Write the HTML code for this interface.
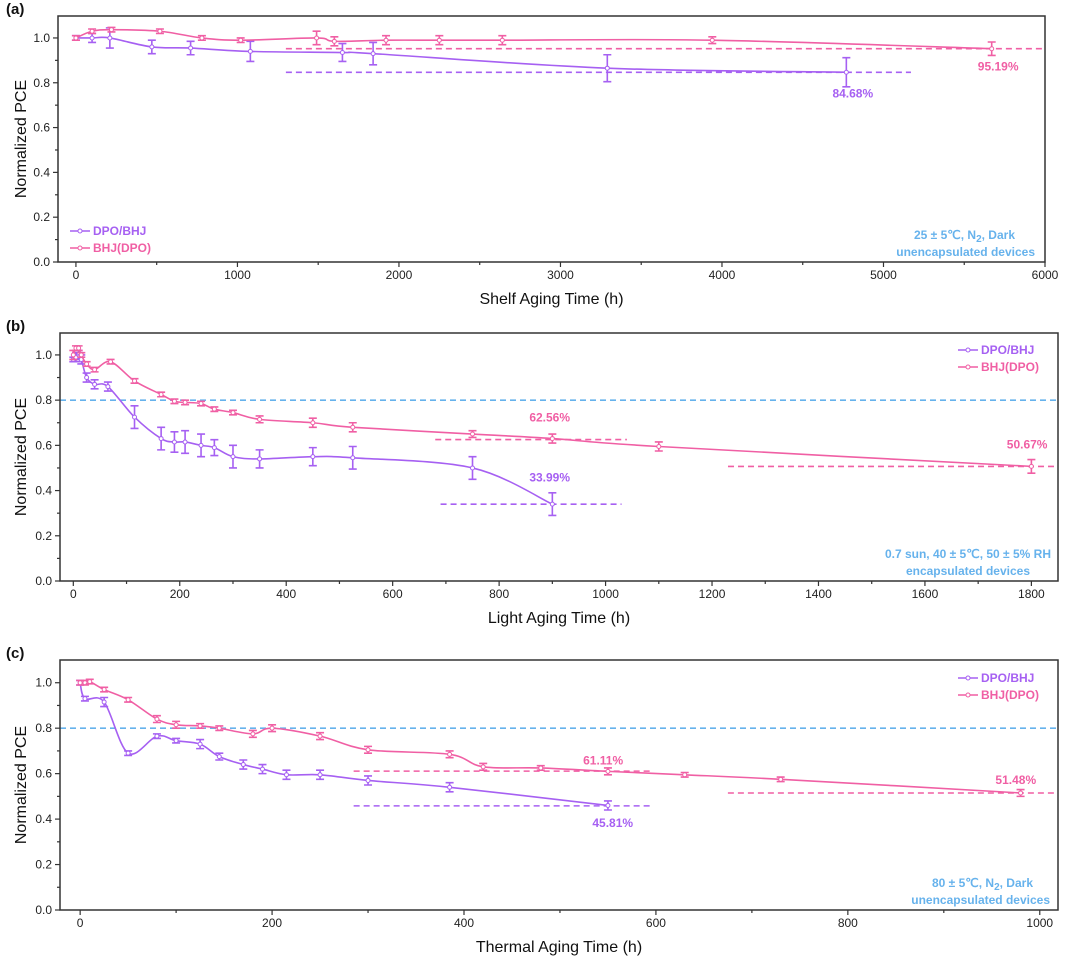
<!DOCTYPE html>
<html><head><meta charset="utf-8"><style>
html,body{margin:0;padding:0;background:#fff;}
svg{display:block;font-family:"Liberation Sans",Arial,sans-serif;}
</style></head><body>
<svg id="fig" width="1080" height="968" viewBox="0 0 1080 968" xmlns="http://www.w3.org/2000/svg"></svg>
<script>
// ---- Panel (a) data: shelf aging ----
const aDpoX=[0,100,210,470,710,1080,1650,1840,3290,4770];
const aDpoY=[1.0,1.0,1.0,0.96,0.955,0.94,0.935,0.93,0.865,0.847];
const aDpoE=[0.01,0.02,0.045,0.03,0.03,0.045,0.04,0.05,0.06,0.065];
const aBhjX=[0,100,220,520,780,1020,1490,1600,1920,2250,2640,3940,5670];
const aBhjY=[1.0,1.03,1.037,1.03,1.0,0.99,1.0,0.985,0.99,0.99,0.99,0.99,0.952];
const aBhjE=[0.01,0.01,0.01,0.01,0.01,0.01,0.03,0.02,0.02,0.02,0.02,0.015,0.03];
const aXTicks=[0,1000,2000,3000,4000,5000,6000];
// ---- Panel (b) data: light aging ----
const bDpoX=[0,5,10,15,25,40,65,115,165,190,210,240,265,300,350,450,525,750,900];
const bDpoY=[0.98,0.99,1.0,0.98,0.9,0.87,0.86,0.725,0.63,0.615,0.615,0.6,0.59,0.55,0.54,0.55,0.545,0.5,0.34];
const bDpoE=[0.01,0.02,0.02,0.02,0.02,0.02,0.02,0.05,0.05,0.045,0.05,0.05,0.035,0.05,0.04,0.04,0.05,0.05,0.05];
const bBhjX=[0,5,10,15,25,40,70,115,165,190,210,240,265,300,350,450,525,750,900,1100,1800];
const bBhjY=[1.0,1.03,1.03,1.0,0.96,0.935,0.97,0.885,0.825,0.795,0.79,0.785,0.76,0.745,0.715,0.7,0.68,0.65,0.63,0.595,0.507];
const bBhjE=[0.02,0.01,0.01,0.01,0.01,0.01,0.01,0.01,0.01,0.01,0.01,0.01,0.01,0.01,0.015,0.02,0.02,0.015,0.02,0.02,0.03];
const bXTicks=[0,200,400,600,800,1000,1200,1400,1600,1800];
// ---- Panel (c) data: thermal aging ----
const cDpoX=[0,5,25,50,80,100,125,145,170,190,215,250,300,385,550];
const cDpoY=[1.0,0.93,0.915,0.69,0.765,0.745,0.73,0.675,0.64,0.62,0.595,0.595,0.57,0.54,0.46];
const cDpoE=[0.01,0.01,0.02,0.01,0.01,0.01,0.02,0.015,0.02,0.02,0.02,0.02,0.02,0.02,0.02];
const cBhjX=[0,5,10,25,50,80,100,125,145,180,200,250,300,385,420,480,550,630,730,980];
const cBhjY=[1.0,1.0,1.005,0.97,0.925,0.84,0.815,0.81,0.8,0.775,0.8,0.765,0.705,0.685,0.63,0.625,0.61,0.595,0.575,0.515];
const cBhjE=[0.01,0.01,0.01,0.01,0.01,0.015,0.015,0.01,0.01,0.015,0.015,0.015,0.015,0.015,0.015,0.01,0.015,0.01,0.01,0.015];
const cXTicks=[0,200,400,600,800,1000];
const yTicks=[0.0,0.2,0.4,0.6,0.8,1.0];

const NS="http://www.w3.org/2000/svg";
const svg=document.getElementById('fig');
const PUR="#a660f2",PINK="#f05fa4",BLUE="#66b2ec";
function el(tag,attrs,parent){const e=document.createElementNS(NS,tag);for(const k in attrs)e.setAttribute(k,attrs[k]);(parent||svg).appendChild(e);return e;}
function txt(s,attrs,parent){const t=el('text',attrs,parent);t.textContent=s;return t;}
function spline(pts){
  let d="M"+pts[0][0]+","+pts[0][1];
  for(let i=0;i<pts.length-1;i++){
    const p0=pts[Math.max(0,i-1)],p1=pts[i],p2=pts[i+1],p3=pts[Math.min(pts.length-1,i+2)];
    const c1=[p1[0]+(p2[0]-p0[0])/6,p1[1]+(p2[1]-p0[1])/6];
    const c2=[p2[0]-(p3[0]-p1[0])/6,p2[1]-(p3[1]-p1[1])/6];
    d+=" C"+c1[0]+","+c1[1]+" "+c2[0]+","+c2[1]+" "+p2[0]+","+p2[1];
  }
  return d;
}
function panel(cfg){
  const g=el('g',{});
  
  
  const X=v=>cfg.L+(v-cfg.xmin)/(cfg.xmax-cfg.xmin)*(cfg.R-cfg.L);
  const Y=v=>cfg.B-(v-0)/(cfg.ymax)*(cfg.B-cfg.T);
  const pl=txt('('+cfg.id+')',{x:6,y:cfg.T-2,'font-size':15,'font-weight':'bold',fill:'#111'},g);
  
  
  const tk=el('g',{stroke:'#333','stroke-width':1.2},g);
  
  
  for(let i=0;i<cfg.xt.length;i++){
    const v=cfg.xt[i],x=X(v);
    el('line',{x1:x,x2:x,y1:cfg.B,y2:cfg.B+5},tk);
    const lab=txt(String(v),{x:x,y:cfg.B+17,'font-size':12,'text-anchor':'middle',fill:'#222',stroke:'none'},g);
    
    
    if(i<cfg.xt.length-1){const m=X((v+cfg.xt[i+1])/2);el('line',{x1:m,x2:m,y1:cfg.B,y2:cfg.B+3},tk);}
  }
  const yk=el('g',{stroke:'#333','stroke-width':1.2},g);
  
  
  for(let i=0;i<yTicks.length;i++){
    const v=yTicks[i],y=Y(v);
    el('line',{x1:cfg.L-5,x2:cfg.L,y1:y,y2:y},yk);
    const lab=txt(v.toFixed(1),{x:cfg.L-8,y:y+4,'font-size':12,'text-anchor':'end',fill:'#222',stroke:'none'},g);
    
    
    const m=Y(v+0.1); if(m>cfg.T) el('line',{x1:cfg.L-3,x2:cfg.L,y1:m,y2:m},yk);
  }
  const yt=txt('Normalized PCE',{transform:`translate(26,${(cfg.T+cfg.B)/2}) rotate(-90)`,'font-size':16,'text-anchor':'middle',fill:'#111'},g);
  
  
  const xt=txt(cfg.xtitle,{x:(cfg.L+cfg.R)/2,y:cfg.B+42,'font-size':16,'text-anchor':'middle',fill:'#111'},g);
  
  
  for(const r of cfg.refs){
    const l=el('line',{x1:X(r.x1===null?cfg.xmin:r.x1),x2:X(r.x2===null?cfg.xmax:r.x2),y1:Y(r.y),y2:Y(r.y),stroke:r.c,'stroke-width':1.6,'stroke-dasharray':'6,4'},g);
    
    
  }
  for(const s of cfg.series){
    const sg=el('g',{},g);
    
    
    const pts=s.x.map((v,i)=>[X(v),Y(s.y[i])]);
    const p=el('path',{d:spline(pts),fill:'none',stroke:s.c,'stroke-width':1.6},sg);
    
    
    for(let i=0;i<s.x.length;i++){
      const x=X(s.x[i]),y1=Y(s.y[i]+s.e[i]),y2=Y(s.y[i]-s.e[i]);
      const eb=el('path',{d:`M${x},${y1}V${y2}M${x-4},${y1}H${x+4}M${x-4},${y2}H${x+4}`,stroke:s.c,'stroke-width':1.6,fill:'none'},sg);
      
      
      const c=el('circle',{cx:x,cy:Y(s.y[i]),r:2,fill:'#fff',stroke:s.c,'stroke-width':1},sg);
      
      
    }
  }
  for(const a of cfg.notes){
    const t=txt(a.t,{x:X(a.x),y:Y(a.y),'font-size':12,'font-weight':'bold','text-anchor':'middle',fill:a.c},g);
    
    
  }
  const cd=el('g',{'font-size':12,'font-weight':'bold',fill:BLUE,'text-anchor':'end'},g);
  
  
  const c1=el('text',{x:cfg.condX,y:cfg.B-23},cd);c1.innerHTML=cfg.cond1;
  txt(cfg.cond2,{x:cfg.condX2,y:cfg.B-6},cd);
  const lg=el('g',{'font-size':12,'font-weight':'bold'},g);
  
  
  [['DPO/BHJ',PUR],['BHJ(DPO)',PINK]].forEach((e,i)=>{
    const y=cfg.legY+i*17,x=cfg.legX;
    const it=el('g',{},lg);
    
    
    el('line',{x1:x,x2:x+20,y1:y,y2:y,stroke:e[1],'stroke-width':1.6},it);
    el('circle',{cx:x+10,cy:y,r:2,fill:'#fff',stroke:e[1]},it);
    txt(e[0],{x:x+23,y:y+4,fill:e[1]},it);
  });
  const fr=el('rect',{x:cfg.L,y:cfg.T,width:cfg.R-cfg.L,height:cfg.B-cfg.T,fill:'none',stroke:'#333','stroke-width':1.5},g);
  
  
}
panel({id:'a',L:58,R:1045,T:16,B:262,xmin:-111,xmax:6000,ymax:1.098,xt:aXTicks,xtitle:'Shelf Aging Time (h)',
  series:[{name:'dpo-bhj',x:aDpoX,y:aDpoY,e:aDpoE,c:PUR},{name:'bhj-dpo',x:aBhjX,y:aBhjY,e:aBhjE,c:PINK}],
  refs:[{x1:1300,x2:null,y:0.9519,c:PINK,name:'retention-line-bhj'},{x1:1300,x2:5170,y:0.8468,c:PUR,name:'retention-line-dpo'}],
  notes:[{t:'84.68%',x:4810,y:0.735,c:PUR},{t:'95.19%',x:5710,y:0.855,c:PINK}],
  cond1:'25 ± 5℃, N<tspan dy="3" font-size="10">2</tspan><tspan dy="-3">, Dark</tspan>',cond2:'unencapsulated devices',condX:1015,condX2:1035,legX:70,legY:231});
panel({id:'b',L:60,R:1058,T:333,B:581,xmin:-25,xmax:1850,ymax:1.097,xt:bXTicks,xtitle:'Light Aging Time (h)',
  series:[{name:'dpo-bhj',x:bDpoX,y:bDpoY,e:bDpoE,c:PUR},{name:'bhj-dpo',x:bBhjX,y:bBhjY,e:bBhjE,c:PINK}],
  refs:[{x1:null,x2:null,y:0.8,c:BLUE,name:'t80-line'},{x1:680,x2:1040,y:0.6256,c:PINK,name:'retention-line-bhj-900h'},{x1:690,x2:1030,y:0.3399,c:PUR,name:'retention-line-dpo'},{x1:1230,x2:null,y:0.5067,c:PINK,name:'retention-line-bhj'}],
  notes:[{t:'62.56%',x:895,y:0.705,c:PINK},{t:'33.99%',x:895,y:0.44,c:PUR},{t:'50.67%',x:1792,y:0.585,c:PINK}],
  cond1:'0.7 sun, 40 ± 5℃, 50 ± 5% RH',cond2:'encapsulated devices',condX:1051,condX2:1030,legX:958,legY:350});
panel({id:'c',L:60,R:1058,T:660,B:910,xmin:-21,xmax:1019,ymax:1.1,xt:cXTicks,xtitle:'Thermal Aging Time (h)',
  series:[{name:'dpo-bhj',x:cDpoX,y:cDpoY,e:cDpoE,c:PUR},{name:'bhj-dpo',x:cBhjX,y:cBhjY,e:cBhjE,c:PINK}],
  refs:[{x1:null,x2:null,y:0.8,c:BLUE,name:'t80-line'},{x1:285,x2:595,y:0.6111,c:PINK,name:'retention-line-bhj-550h'},{x1:285,x2:595,y:0.4581,c:PUR,name:'retention-line-dpo'},{x1:675,x2:null,y:0.5148,c:PINK,name:'retention-line-bhj'}],
  notes:[{t:'61.11%',x:545,y:0.64,c:PINK},{t:'45.81%',x:555,y:0.366,c:PUR},{t:'51.48%',x:975,y:0.555,c:PINK}],
  cond1:'80 ± 5℃, N<tspan dy="3" font-size="10">2</tspan><tspan dy="-3">, Dark</tspan>',cond2:'unencapsulated devices',condX:1033,condX2:1050,legX:958,legY:678});
</script>
</body></html>
